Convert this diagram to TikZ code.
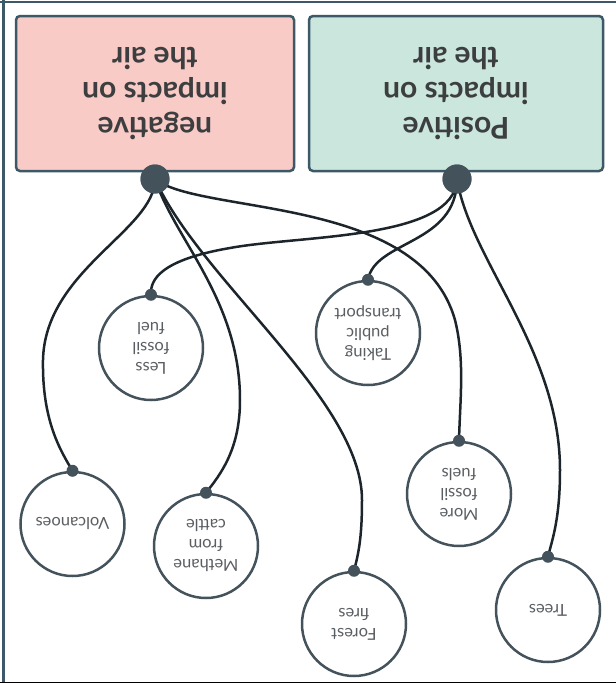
\documentclass[tikz,border=0pt]{standalone}
\usepackage{fontspec}
\setmainfont{Lato}
\usetikzlibrary{positioning}

\definecolor{slate}{HTML}{3D5866}
\definecolor{hubcol}{HTML}{44525C}
\definecolor{linkcol}{HTML}{1C252B}
\definecolor{pinkfill}{HTML}{F9CBC6}
\definecolor{greenfill}{HTML}{CAE6DD}
\definecolor{headtext}{HTML}{3C3E40}
\definecolor{bubtext}{HTML}{5A5E62}
\definecolor{baseline}{HTML}{8A9AA2}

\begin{document}
\begin{tikzpicture}[
  x=1pt, y=-1pt,
  headbox/.style={draw=slate,line width=2.5pt,rounded corners=4pt,rotate=180,
    align=center,text=headtext,font=\bfseries\fontsize{30}{35}\selectfont,
    minimum height=155pt},
  bubble/.style={circle,draw=hubcol,line width=2.5pt,minimum size=104pt,
    inner sep=0pt,rotate=180,align=center,text=bubtext,
    font=\fontsize{16.5}{20}\selectfont},
  hub/.style={circle,fill=hubcol,minimum size=29pt,inner sep=0pt},
  pin/.style={circle,fill=hubcol,minimum size=12pt,inner sep=0pt},
  link/.style={draw=linkcol,line width=2.5pt}
  ]
  \useasboundingbox (0,0) rectangle (616,683);

  % frame
  \draw[slate,line width=2.5pt] (0,2.2) -- (616,2.2);
  \draw[slate,line width=3.5pt] (3.3,0) -- (3.3,683);
  \draw[baseline,line width=1pt] (0,682) -- (616,682);

  % the two headings (picture is upside down)
  \node[headbox,fill=pinkfill,minimum width=278pt] (neg) at (155,93.5)
    {negative\\impacts on\\the air};
  \node[headbox,fill=greenfill,minimum width=294pt] (pos) at (456,93.5)
    {Positive\\impacts on\\the air};

  \node[hub] (neghub) at (155,179) {};
  \node[hub] (poshub) at (457,179) {};

  % bubbles
  \node[bubble] (volc)    at (72.5,524) {Volcanoes};
  \node[bubble] (methane) at (206,546)  {Methane\\from\\cattle};
  \node[bubble] (forest)  at (354,624)  {Forest\\fires};
  \node[bubble] (more)    at (459,494)  {More\\fossil\\fuels};
  \node[bubble] (less)    at (151,348)  {Less\\fossil\\fuel};
  \node[bubble] (transp)  at (368,333)  {Taking\\public\\transport};
  \node[bubble] (trees)   at (548,610)  {Trees};

  % negative links
  \draw[link] (neghub.center) .. controls (155,230) and (45,270) .. (43,360)
    .. controls (42,420) and (60,450) .. (volc.south);
  \draw[link] (neghub.center) .. controls (175,240) and (240,300) .. (240,400)
    .. controls (240,450) and (220,475) .. (methane.south);
  \draw[link] (neghub.center) .. controls (200,280) and (362,400) .. (362,500)
    .. controls (362,540) and (358,555) .. (forest.south);
  \draw[link] (neghub.center) .. controls (200,215) and (420,195) .. (455,320)
    .. controls (465,360) and (460,400) .. (more.south);

  % positive links
  \draw[link] (poshub.center) .. controls (455,240) and (300,235) .. (230,248)
    .. controls (160,260) and (150,280) .. (less.south);
  \draw[link] (poshub.center) .. controls (457,245) and (375,240) .. (transp.south);
  \draw[link] (poshub.center) .. controls (470,260) and (560,350) .. (560,470)
    .. controls (560,520) and (552,540) .. (trees.south);

  \node[hub] at (neghub) {};
  \node[hub] at (poshub) {};
  \foreach \b in {volc,methane,forest,more,less,transp,trees}
    \node[pin] at (\b.south) {};
\end{tikzpicture}
\end{document}
